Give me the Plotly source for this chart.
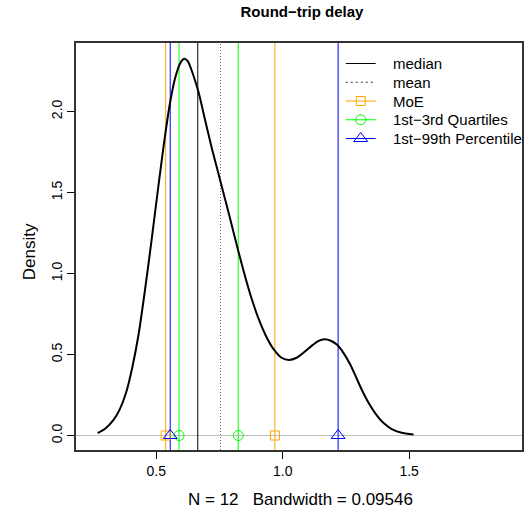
import plotly.graph_objects as go

# ---- data ----
dens_x = [0.268, 0.300, 0.330, 0.355, 0.380, 0.405, 0.430, 0.455, 0.480, 0.505, 0.530,
          0.555, 0.575, 0.595, 0.610, 0.625, 0.645, 0.668, 0.694, 0.720, 0.754, 0.790,
          0.824, 0.855, 0.880, 0.907, 0.935, 0.966, 0.995, 1.025, 1.055, 1.085, 1.115,
          1.140, 1.165, 1.190, 1.215, 1.240, 1.268, 1.290, 1.313, 1.340, 1.366, 1.400,
          1.431, 1.470, 1.517]
dens_y = [0.014, 0.045, 0.095, 0.160, 0.262, 0.420, 0.625, 0.895, 1.190, 1.500, 1.800,
          2.060, 2.210, 2.300, 2.326, 2.310, 2.230, 2.114, 1.940, 1.770, 1.567, 1.350,
          1.140, 0.960, 0.830, 0.710, 0.610, 0.528, 0.480, 0.466, 0.480, 0.515, 0.555,
          0.583, 0.594, 0.585, 0.560, 0.510, 0.435, 0.360, 0.281, 0.200, 0.137, 0.075,
          0.040, 0.017, 0.006]

median_val = 0.664
mean_val = 0.754
moe_vals = [0.537, 0.969]
quart_vals = [0.590, 0.824]
pct_vals = [0.555, 1.219]

x_ticks = [0.5, 1.0, 1.5]
x_tick_labels = ["0.5", "1.0", "1.5"]
y_ticks = [0.0, 0.5, 1.0, 1.5, 2.0]
y_tick_labels = ["0.0", "0.5", "1.0", "1.5", "2.0"]

title_text = "Round\u2212trip delay"
xlab_text = "N = 12\u00a0\u00a0\u00a0Bandwidth = 0.09546"
ylab_text = "Density"
legend_names = ["median", "mean", "MoE", "1st\u22123rd Quartiles", "1st\u221299th Percentile"]

ORANGE = "#FFA500"
GREEN = "#00FF00"
BLUE = "#0000FF"
FONT = "Liberation Sans, Arial, Helvetica, sans-serif"

# legend styles (colour, dash, marker symbol, marker size)
legend_styles = [
    ("black", "solid", None, 0),
    ("#333", "2px,3px", None, 0),
    (ORANGE, "solid", "square-open", 9),
    (GREEN, "solid", "circle-open", 10),
    (BLUE, "solid", "triangle-up-open", 12),
]

W, H = 524, 517
L, R, T, B = 76, 0, 43, 67
pw = W - L - R
ph = H - T - B

fig = go.Figure()

# density curve
fig.add_trace(go.Scatter(x=dens_x, y=dens_y, mode="lines",
                         line=dict(color="black", width=2, shape="spline", smoothing=0.6),
                         showlegend=False, hoverinfo="skip"))

# reference lines
fig.add_hline(y=0, line=dict(color="#BEBEBE", width=1), layer="below")
fig.add_vline(x=median_val, line=dict(color="black", width=1), layer="below")
fig.add_vline(x=mean_val, line=dict(color="#666", width=1, dash="1px,2px"), layer="below")
for v in moe_vals:
    fig.add_vline(x=v, line=dict(color=ORANGE, width=1), layer="below")
for v in quart_vals:
    fig.add_vline(x=v, line=dict(color=GREEN, width=1), layer="below")
for v in pct_vals:
    fig.add_vline(x=v, line=dict(color=BLUE, width=1), layer="below")

# markers at y=0
fig.add_trace(go.Scatter(x=moe_vals, y=[0] * len(moe_vals), mode="markers",
                         marker=dict(symbol="square-open", size=9, color=ORANGE, line=dict(width=1)),
                         showlegend=False, hoverinfo="skip"))
fig.add_trace(go.Scatter(x=quart_vals, y=[0] * len(quart_vals), mode="markers",
                         marker=dict(symbol="circle-open", size=10, color=GREEN, line=dict(width=1)),
                         showlegend=False, hoverinfo="skip"))
fig.add_trace(go.Scatter(x=pct_vals, y=[0] * len(pct_vals), mode="markers",
                         marker=dict(symbol="triangle-up-open", size=12, color=BLUE, line=dict(width=1)),
                         showlegend=False, hoverinfo="skip"))

# manual legend on an overlay axis measured in pixels
leg_x0, leg_x1, leg_text_x = 347, 377, 392
leg_row0, leg_dy = 63.5, 18.75
annotations = []
for i, (name, (col, dash, sym, msz)) in enumerate(zip(legend_names, legend_styles)):
    yy = leg_row0 + i * leg_dy
    fig.add_trace(go.Scatter(x=[leg_x0, leg_x1], y=[yy, yy], mode="lines", xaxis="x2", yaxis="y2",
                             line=dict(color=col, width=1, dash=dash),
                             showlegend=False, hoverinfo="skip"))
    if sym:
        fig.add_trace(go.Scatter(x=[(leg_x0 + leg_x1) / 2], y=[yy], mode="markers", xaxis="x2", yaxis="y2",
                                 marker=dict(symbol=sym, size=msz, color=col, line=dict(width=1)),
                                 showlegend=False, hoverinfo="skip"))
    annotations.append(dict(text=name, xref="x2", yref="y2", x=leg_text_x, y=yy,
                            xanchor="left", yanchor="middle", showarrow=False,
                            font=dict(size=15, family=FONT, color="black")))

annotations += [
    dict(text=xlab_text, xref="paper", yref="paper", x=(302 - L) / pw, y=(450 - 499) / ph,
         xanchor="center", yanchor="middle", showarrow=False, font=dict(size=17, family=FONT)),
    dict(text=ylab_text, xref="paper", yref="paper", x=(29 - L) / pw, y=(450 - 252) / ph,
         xanchor="center", yanchor="middle", showarrow=False, textangle=-90,
         font=dict(size=17, family=FONT)),
]

y0 = -(450 - 435.5) / 162.0
fig.update_layout(
    width=W, height=H,
    margin=dict(l=L, r=R, t=T, b=B, pad=0),
    paper_bgcolor="white", plot_bgcolor="white",
    font=dict(family=FONT, color="black", size=14),
    title=dict(text="<b>" + title_text + "</b>", font=dict(size=15, family=FONT, color="black"),
               x=302 / W, xref="container", xanchor="center",
               y=1 - 12 / H, yref="container", yanchor="middle"),
    showlegend=False,
    xaxis=dict(range=[0.1824, 0.1824 + pw / 254.0], tickvals=x_ticks, ticktext=x_tick_labels,
               ticks="outside", ticklen=7, tickcolor="black", tickwidth=1,
               showline=True, linecolor="#333", linewidth=1.5, mirror=True,
               showgrid=False, zeroline=False, tickfont=dict(size=14, family=FONT),
               ticklabelstandoff=0),
    yaxis=dict(range=[y0, y0 + ph / 162.0],
               tickvals=y_ticks, ticktext=y_tick_labels, tickangle=-90,
               ticks="outside", ticklen=7, tickcolor="black", tickwidth=1,
               showline=True, linecolor="#333", linewidth=1.5, mirror=True,
               showgrid=False, zeroline=False, tickfont=dict(size=14, family=FONT),
               ticklabelstandoff=0),
    xaxis2=dict(range=[L, W - R], overlaying="x", visible=False, fixedrange=True),
    yaxis2=dict(range=[H - B, T], overlaying="y", visible=False, fixedrange=True),
    annotations=annotations,
)

fig.write_html("out.html")
